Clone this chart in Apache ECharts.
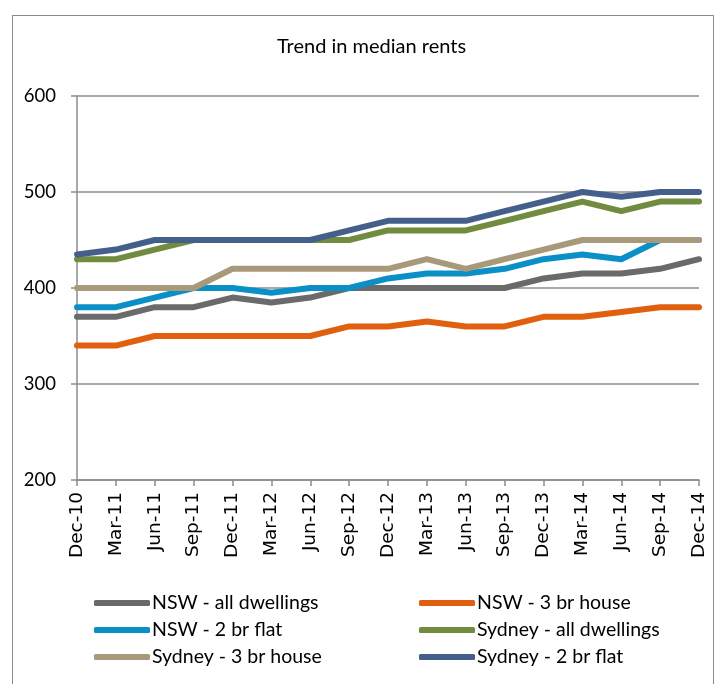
<!DOCTYPE html>
<html>
<head>
<meta charset="utf-8">
<script src="https://cdn.jsdelivr.net/npm/echarts@6/dist/echarts.min.js"></script>
<style>
  html, body { margin: 0; padding: 0; background: #fff; }
  #frame { position: absolute; left: 12px; top: 15px; width: 702px; height: 700px; border: 1.5px solid #8c8c8c; box-sizing: border-box; }
  #chart { position: absolute; left: 0; top: 0; width: 721px; height: 684px; }
</style>
</head>
<body>
<div id="frame"></div>
<div id="chart"></div>
<script>
const quarters = ["Dec-10","Mar-11","Jun-11","Sep-11","Dec-11","Mar-12","Jun-12","Sep-12","Dec-12",
                  "Mar-13","Jun-13","Sep-13","Dec-13","Mar-14","Jun-14","Sep-14","Dec-14"];

const nswAll     = [370,370,380,380,390,385,390,400,400,400,400,400,410,415,415,420,430];
const nsw3br     = [340,340,350,350,350,350,350,360,360,365,360,360,370,370,375,380,380];
const nsw2br     = [380,380,390,400,400,395,400,400,410,415,415,420,430,435,430,450,450];
const sydAll     = [430,430,440,450,450,450,450,450,460,460,460,470,480,490,480,490,490];
const syd3br     = [400,400,400,400,420,420,420,420,420,430,420,430,440,450,450,450,450];
const syd2br     = [435,440,450,450,450,450,450,460,470,470,470,480,490,500,495,500,500];

const seriesDefs = [
  { name: "NSW - all dwellings",    data: nswAll, color: "#6a6a6a" },
  { name: "NSW - 3 br house",       data: nsw3br, color: "#e0600f" },
  { name: "NSW - 2 br flat",        data: nsw2br, color: "#0a90c6" },
  { name: "Sydney - all dwellings", data: sydAll, color: "#718c3e" },
  { name: "Sydney - 3 br house",    data: syd3br, color: "#a8997b" },
  { name: "Sydney - 2 br flat",     data: syd2br, color: "#44608a" }
];

const FONT = "Lato";
const chart = echarts.init(document.getElementById("chart"));

const legendBase = {
  orient: "vertical",
  top: 588,
  itemWidth: 56,
  itemHeight: 6,
  itemGap: 7,
  icon: "roundRect",
  textStyle: { fontFamily: FONT, fontSize: 19.5, color: "#000", padding: [0, 0, 0, -3] }
};

chart.setOption({
  animation: false,
  title: {
    text: "Trend in median rents",
    left: 272,
    top: 32,
    textStyle: { fontFamily: FONT, fontSize: 20, fontWeight: "normal", color: "#000" }
  },
  legend: [
    Object.assign({}, legendBase, { left: 89, data: [seriesDefs[0].name, seriesDefs[2].name, seriesDefs[4].name] }),
    Object.assign({}, legendBase, { left: 414, data: [seriesDefs[1].name, seriesDefs[3].name, seriesDefs[5].name] })
  ],
  grid: { left: 77, right: 22, top: 96, bottom: 204, containLabel: false },
  xAxis: {
    type: "category",
    data: quarters,
    boundaryGap: false,
    axisLine: { lineStyle: { color: "#8c8c8c", width: 1.5 } },
    axisTick: { alignWithLabel: true, length: 6, lineStyle: { color: "#8c8c8c", width: 1.5 } },
    axisLabel: { rotate: 90, interval: 0, fontFamily: "DejaVu Sans", fontSize: 18.5, color: "#000", margin: 12 }
  },
  yAxis: {
    type: "value",
    min: 200, max: 600, interval: 100,
    axisLine: { show: true, lineStyle: { color: "#8c8c8c", width: 1.5 } },
    axisTick: { show: true, length: 6, lineStyle: { color: "#8c8c8c", width: 1.5 } },
    splitLine: { lineStyle: { color: "#8c8c8c", width: 1.5 } },
    axisLabel: { fontFamily: FONT, fontSize: 18.5, color: "#000", margin: 21 }
  },
  series: seriesDefs.map(s => ({
    name: s.name,
    type: "line",
    data: s.data,
    symbol: "none",
    color: s.color,
    lineStyle: { width: 6, color: s.color, cap: "round", join: "round" }
  }))
});
</script>
</body>
</html>
